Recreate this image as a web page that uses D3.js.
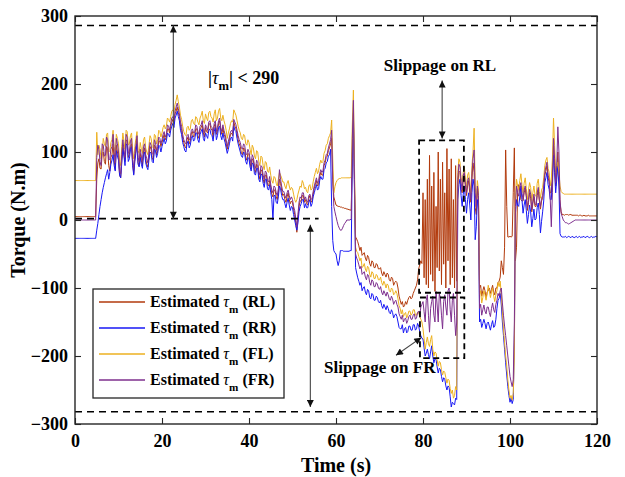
<!DOCTYPE html>
<html lang="en">
<head>
<meta charset="UTF-8" />
<title>Estimated motor torque</title>
<script src="https://d3js.org/d3.v7.min.js"></script>
<style>
  body { margin: 0; background: #fff; }
  svg text { font-family: 'Liberation Serif', 'Times New Roman', serif; font-weight: bold; fill: #000; }
</style>
</head>
<body>
<svg id="chart" width="625" height="477" font-family="Liberation Serif, serif"></svg>
<script>
  // sample times (s), one every 0.25 s
  const time = d3.range(0, 120.125, 0.25);

  // estimated motor torque (N.m); 20 samples (5 s) per row
  const torqueRL = [
    5, 5, 5, 5, 5, 5, 5, 5, 5, 5, 5, 5, 5, 5, 5, 5, 5, 5, 5, 5,
    60, 84, 90, 76, 75, 98, 100, 86, 82, 108, 105, 80, 72, 92, 96, 112, 88, 74, 110, 100,
    92, 66, 62, 88, 110, 96, 86, 118, 116, 92, 96, 108, 112, 84, 68, 90, 104, 116, 84, 80,
    98, 88, 80, 100, 106, 90, 82, 78, 94, 108, 104, 92, 88, 110, 108, 96, 102, 116, 116, 108,
    114, 120, 126, 118, 122, 134, 134, 128, 138, 144, 148, 142, 156, 160, 166, 158, 152, 138, 132, 120,
    114, 108, 106, 118, 122, 112, 116, 128, 130, 122, 124, 134, 134, 124, 120, 132, 136, 140, 128, 122,
    136, 130, 128, 140, 142, 134, 132, 122, 138, 142, 126, 130, 142, 146, 132, 126, 136, 126, 122, 112,
    104, 112, 118, 126, 128, 124, 144, 138, 134, 128, 118, 112, 108, 98, 96, 106, 104, 92, 88, 98,
    96, 84, 76, 90, 88, 74, 70, 82, 80, 66, 60, 74, 72, 60, 54, 66, 66, 52, 50, 58,
    48, 38, 34, 44, 44, 34, 30, 40, 60, 54, 44, 36, 38, 30, 26, 34, 40, 30, 24, 28,
    26, 16, 8, -4, -18, 2, 20, 28, 28, 36, 36, 26, 30, 24, 22, 32, 36, 26, 28, 38,
    46, 52, 58, 50, 52, 64, 70, 66, 66, 80, 84, 92, 94, 102, 106, 112, 120, 60, 34, 28,
    22, 21, 20, 20, 19, 19, 18, 18, 17, 17, 16, 16, 15, 15, 14, 100, 157, 50, -25, -28,
    -32, -38, -45, -40, -52, -50, -48, -56, -60, -52, -55, -64, -68, -60, -62, -70, -70, -64, -66, -72,
    -72, -70, -78, -82, -76, -80, -84, -78, -80, -88, -90, -84, -86, -96, -92, -90, -92, -100, -112, -118,
    -124, -120, -128, -126, -120, -124, -118, -114, -112, -116, -114, -108, -104, -100, -96, -88, -72, -66, -60, -64,
    40, -85, 30, -95, 60, -100, 95, -80, 50, -90, 70, -105, 20, -70, 100, -75, 60, -95, 85, -65,
    40, -100, 105, -60, 75, -95, 90, -85, 30, -100, 80, -90, 50, 72, 70, 45, 40, 58, 64, 50,
    36, 50, 58, 40, 26, 60, 84, 70, 18, 8, 46, 30, -100, -96, -112, -104, -98, -104, -115, -106,
    -104, -100, -108, -102, -96, -106, -110, -100, -100, -92, -90, -84, -60, -70, -80, -40, 103, 20, -25, -25,
    -24, -25, -24, 40, 106, -60, -40, 40, 52, 44, 30, 28, 28, 40, 46, 34, 14, 26, 40, 32,
    12, 24, 34, 20, 20, 36, 44, 28, 16, 28, 32, 46, 66, 72, 80, 62, 56, 40, 40, 70,
    110, 80, 50, 70, 100, 60, 25, 12, 8, 8, 7, 8, 8, 8, 7, 8, 8, 7, 7, 7,
    7, 7, 7, 6, 7, 7, 6, 6, 7, 6, 6, 6, 7, 6, 6, 6, 6, 6, 6, 6,
    6
  ];
  const torqueRR = [
    -27, -27, -27, -27, -27, -27, -27, -27, -27, -27, -27, -27, -27, -27, -27, -27, -27, -27, -27, -27,
    -15, -5, 8, 20, 30, 40, 48, 55, 62, 68, 74, 60, 70, 82, 88, 96, 80, 72, 102, 94,
    88, 66, 62, 84, 106, 94, 80, 112, 110, 86, 90, 104, 108, 80, 66, 86, 98, 112, 82, 78,
    92, 82, 76, 96, 100, 84, 78, 74, 88, 100, 98, 86, 84, 104, 102, 92, 98, 110, 108, 100,
    108, 114, 120, 112, 116, 128, 126, 122, 132, 138, 142, 136, 150, 154, 160, 152, 146, 132, 126, 114,
    108, 102, 100, 112, 116, 106, 110, 120, 124, 116, 118, 128, 128, 118, 114, 126, 130, 134, 120, 116,
    128, 124, 120, 132, 134, 126, 124, 116, 130, 136, 118, 124, 136, 138, 124, 118, 128, 120, 114, 106,
    98, 104, 112, 120, 122, 116, 138, 132, 130, 120, 112, 106, 100, 94, 92, 100, 98, 86, 82, 92,
    90, 78, 72, 84, 82, 68, 66, 76, 76, 60, 56, 68, 66, 54, 48, 60, 60, 46, 44, 52,
    40, 30, 0, 36, 36, 26, 24, 34, 50, 46, 36, 30, 30, 24, 18, 26, 32, 22, 14, 20,
    18, 8, 0, -8, -15, -4, 12, 20, 24, 30, 30, 18, 24, 18, 18, 26, 30, 20, 24, 34,
    40, 46, 52, 44, 46, 58, 64, 60, 60, 74, 76, 84, 86, 94, 96, 104, 20, -30, -45, -48,
    -50, -60, -67, -60, -45, -45, -45, -46, -46, -46, -46, -46, -46, -45, -45, 90, 147, 40, -70, -78,
    -85, -90, -96, -92, -104, -100, -98, -106, -110, -102, -104, -114, -116, -108, -110, -118, -118, -112, -114, -120,
    -122, -118, -126, -130, -124, -128, -132, -126, -130, -136, -138, -132, -136, -144, -140, -138, -142, -150, -158, -160,
    -160, -154, -166, -160, -158, -166, -164, -156, -156, -162, -162, -154, -154, -162, -160, -152, -156, -164, -170, -174,
    -175, -188, -200, -196, -190, -198, -204, -194, -185, -200, -210, -204, -205, -216, -225, -218, -220, -230, -238, -232,
    -234, -244, -250, -244, -246, -260, -275, -268, -270, -272, -262, -264, 30, 52, 60, 36, 20, 38, 50, 30,
    10, 30, 40, 22, 0, 40, 60, 50, -29, -10, 30, 16, -150, -146, -158, -152, -146, -152, -160, -152,
    -150, -156, -162, -154, -148, -158, -156, -146, -130, -118, -115, -108, -125, -150, -170, -190, -210, -228, -245, -258,
    -268, -262, -270, -264, -180, 10, 30, 22, 20, 34, 50, 30, 10, 22, 30, 14, -5, 8, 22, 12,
    -10, 2, 16, 0, 2, 18, 25, 8, -19, -2, 12, 28, 55, 62, 70, 52, 45, 30, 30, 60,
    95, 70, 40, 60, 80, 50, -20, -24, -25, -25, -25, -24, -26, -25, -24, -25, -26, -24, -25, -26,
    -25, -24, -26, -25, -24, -26, -25, -25, -24, -26, -25, -24, -25, -26, -25, -24, -26, -25, -25, -24,
    -25
  ];
  const torqueFL = [
    58, 58, 58, 58, 58, 58, 58, 58, 58, 58, 58, 58, 58, 58, 58, 58, 58, 58, 58, 58,
    129, 96, 110, 104, 90, 100, 120, 112, 108, 126, 128, 100, 102, 114, 118, 132, 108, 96, 126, 120,
    112, 86, 80, 108, 128, 116, 104, 132, 130, 110, 112, 124, 128, 102, 90, 108, 120, 130, 102, 98,
    114, 104, 98, 118, 122, 106, 100, 96, 110, 124, 120, 108, 106, 126, 124, 112, 118, 132, 130, 122,
    128, 136, 140, 134, 138, 150, 148, 144, 152, 160, 162, 158, 170, 176, 184, 174, 166, 154, 148, 138,
    130, 126, 124, 136, 138, 132, 134, 146, 148, 142, 140, 152, 150, 144, 140, 150, 154, 160, 146, 142,
    156, 150, 146, 158, 160, 152, 150, 144, 156, 162, 146, 150, 160, 164, 150, 146, 154, 146, 140, 132,
    120, 128, 134, 142, 146, 144, 162, 158, 154, 146, 138, 132, 128, 120, 118, 126, 124, 112, 110, 118,
    114, 104, 96, 110, 106, 94, 90, 102, 100, 86, 80, 94, 92, 80, 74, 86, 84, 72, 70, 78,
    66, 58, 54, 64, 62, 54, 50, 60, 70, 66, 62, 56, 56, 50, 46, 54, 58, 50, 44, 48,
    46, 38, 30, 26, 30, 38, 44, 50, 48, 58, 54, 46, 48, 42, 40, 50, 52, 44, 46, 56,
    64, 70, 76, 68, 72, 82, 88, 84, 86, 98, 102, 110, 112, 120, 124, 128, 147, 90, 40, 49,
    55, 58, 60, 61, 61, 62, 62, 62, 62, 62, 62, 62, 62, 62, 63, 140, 191, 80, -40, -46,
    -48, -54, -60, -56, -70, -68, -64, -72, -76, -68, -70, -80, -84, -76, -78, -86, -86, -80, -82, -88,
    -88, -84, -92, -96, -90, -94, -100, -94, -96, -104, -106, -100, -102, -110, -108, -104, -108, -116, -126, -130,
    -138, -132, -142, -138, -136, -144, -140, -134, -134, -140, -138, -132, -132, -140, -140, -136, -136, -142, -146, -150,
    -160, -175, -190, -180, -172, -182, -186, -176, -170, -190, -200, -194, -196, -206, -215, -208, -210, -220, -228, -222,
    -224, -232, -240, -234, -236, -248, -255, -250, -262, -258, -245, -250, 70, 90, 85, 62, 55, 70, 78, 60,
    48, 66, 70, 56, 40, 80, 100, 135, 50, 30, 58, 44, -110, -104, -122, -114, -104, -110, -118, -108,
    -96, -104, -114, -106, -100, -112, -120, -110, -104, -92, -98, -90, -110, -135, -160, -180, -200, -215, -235, -250,
    -262, -258, -265, -255, -200, 30, 60, 50, 45, 58, 68, 52, 40, 54, 62, 46, 30, 44, 55, 48,
    28, 40, 50, 36, 35, 54, 60, 42, 32, 44, 48, 62, 80, 88, 92, 76, 70, 50, 60, 90,
    150, 110, 70, 78, 85, 70, 50, 42, 40, 39, 38, 38, 38, 38, 38, 38, 38, 38, 38, 38,
    38, 38, 38, 38, 38, 38, 38, 38, 38, 38, 38, 38, 38, 38, 38, 38, 38, 38, 38, 38,
    38
  ];
  const torqueFR = [
    0, 0, 0, 0, 0, 0, 0, 0, 0, 0, 0, 0, 0, 0, 0, 0, 0, 0, 0, 0,
    92, 110, 104, 86, 80, 112, 110, 94, 95, 122, 118, 88, 90, 104, 108, 126, 100, 84, 120, 112,
    100, 72, 68, 96, 118, 104, 92, 126, 122, 98, 100, 116, 120, 90, 76, 98, 110, 124, 92, 86,
    104, 94, 86, 108, 112, 96, 90, 84, 100, 114, 110, 98, 96, 118, 114, 102, 108, 122, 120, 112,
    118, 126, 130, 122, 126, 140, 138, 132, 142, 150, 152, 146, 160, 166, 172, 164, 156, 144, 138, 126,
    118, 114, 112, 124, 126, 118, 120, 132, 134, 128, 128, 140, 138, 130, 126, 138, 140, 146, 132, 128,
    140, 136, 132, 144, 146, 138, 136, 128, 142, 146, 130, 136, 146, 150, 136, 130, 140, 132, 126, 118,
    108, 116, 122, 130, 132, 128, 148, 144, 140, 132, 124, 118, 114, 106, 104, 112, 110, 98, 96, 104,
    100, 90, 82, 96, 92, 80, 76, 88, 86, 72, 66, 80, 78, 66, 60, 72, 70, 58, 56, 64,
    52, 44, 40, 50, 48, 40, 36, 46, 74, 60, 50, 42, 42, 36, 32, 40, 44, 36, 30, 34,
    30, 20, 14, 2, -10, 8, 26, 34, 32, 40, 40, 30, 34, 28, 26, 36, 38, 30, 32, 42,
    50, 56, 62, 54, 58, 68, 74, 70, 72, 84, 88, 96, 98, 106, 112, 118, 132, 60, 20, 12,
    5, -2, -8, -12, -15, -15, -12, -8, -5, -3, 0, 0, 0, 0, 2, 120, 176, 60, -50, -56,
    -60, -66, -72, -68, -80, -78, -76, -84, -88, -80, -82, -92, -96, -88, -90, -98, -98, -92, -94, -100,
    -102, -98, -106, -110, -104, -108, -112, -106, -110, -116, -118, -112, -116, -124, -120, -118, -124, -128, -138, -142,
    -146, -140, -150, -146, -144, -152, -148, -142, -140, -146, -146, -140, -138, -146, -144, -136, -134, -140, -128, -124,
    -120, -135, -150, -118, -110, -140, -165, -130, -120, -112, -140, -150, -105, -125, -150, -108, -115, -140, -160, -120,
    -110, -128, -140, -104, -100, -132, -150, -118, -108, -140, -170, -150, 60, 82, 78, 56, 44, 66, 70, 52,
    40, 58, 62, 48, 30, 68, 90, 103, 40, 20, 50, 36, -130, -124, -140, -132, -125, -134, -138, -128,
    -128, -136, -142, -130, -122, -132, -136, -124, -118, -108, -112, -104, -100, -122, -140, -156, -170, -185, -200, -215,
    -230, -238, -245, -235, -150, 20, 50, 40, 35, 48, 55, 40, 30, 44, 50, 36, 18, 30, 45, 38,
    15, 28, 38, 24, 22, 40, 48, 30, 20, 32, 36, 50, 70, 78, 85, 66, 60, 30, -10, 40,
    120, 90, 55, 80, 137, 100, 30, 10, 5, 0, -2, -4, -4, -5, -6, -5, -4, -3, -2, -1,
    0, 0, 0, 0, 0, 0, 0, 0, 0, 0, 0, 0, 0, 0, 0, 0, 0, 0, 0, 0,
    0
  ];

  const seriesNames = ["RL", "RR", "FL", "FR"];
  const seriesColors = ["#B23A0C", "#1717F5", "#EDB120", "#7E2F8E"];
  const seriesValues = [torqueRL, torqueRR, torqueFL, torqueFR];

  const xTicks = [0, 20, 40, 60, 80, 100, 120];
  const yTicks = [-300, -200, -100, 0, 100, 200, 300];

  const svg = d3.select("#chart");
  const plotLeft = 75, plotRight = 597, plotTop = 16, plotBottom = 424;

  const x = d3.scaleLinear().domain([0, 120]).range([plotLeft, plotRight]);
  const y = d3.scaleLinear().domain([-300, 300]).range([plotBottom, plotTop]);

  const defs = svg.append("defs");
  defs.append("clipPath").attr("id", "plot-clip")
    .append("rect")
    .attr("x", plotLeft).attr("y", plotTop)
    .attr("width", plotRight - plotLeft).attr("height", plotBottom - plotTop);

  defs.append("marker")
    .attr("id", "head")
    .attr("viewBox", "0 0 10 10")
    .attr("refX", 10).attr("refY", 5)
    .attr("markerWidth", 9).attr("markerHeight", 7)
    .attr("markerUnits", "userSpaceOnUse")
    .attr("orient", "auto-start-reverse")
    .append("path")
    .attr("d", "M0,0L10,5L0,10Z")
    .attr("fill", "#111");

  // torque traces
  const line = d3.line()
    .x((d, i) => x(time[i]))
    .y(d => y(d));

  svg.append("g")
    .attr("clip-path", "url(#plot-clip)")
    .selectAll("path")
    .data(seriesValues)
    .join("path")
    .attr("d", line)
    .attr("fill", "none")
    .attr("stroke", (d, i) => seriesColors[i])
    .attr("stroke-width", 1)
    .attr("stroke-linejoin", "round");

  // limit lines
  const dashed = (x0, x1, v) => svg.append("line")
    .attr("x1", x(x0)).attr("x2", x(x1))
    .attr("y1", y(v)).attr("y2", y(v))
    .attr("stroke", "#000").attr("stroke-width", 1.6)
    .attr("stroke-dasharray", "7,5");
  dashed(0, 120, 286);
  dashed(0, 56, 2);
  dashed(0, 120, -282);

  // double-headed arrows
  const arrow = (x1, y1, x2, y2) => svg.append("line")
    .attr("x1", x1).attr("y1", y1).attr("x2", x2).attr("y2", y2)
    .attr("stroke", "#444").attr("stroke-width", 1.1)
    .attr("marker-start", "url(#head)")
    .attr("marker-end", "url(#head)");
  arrow(x(22.6), y(286), x(22.6), y(2));
  arrow(x(54.1), y(-7), x(54.1), y(-275));
  arrow(x(84.4), y(205), x(84.4), y(120));
  arrow(x(73.8), y(-199), x(79.6), y(-173));

  // slippage boxes
  const box = (t0, t1, v0, v1) => svg.append("rect")
    .attr("x", x(t0)).attr("y", y(v0))
    .attr("width", x(t1) - x(t0)).attr("height", y(v1) - y(v0))
    .attr("fill", "none").attr("stroke", "#000")
    .attr("stroke-width", 1.8).attr("stroke-dasharray", "6,4");
  box(79.1, 89.4, 117, -107);
  box(79.3, 89.5, -114, -203);

  // axes (ticks pointing inward, MATLAB box style)
  const axisColor = "#262626";
  const styleAxis = g => {
    g.select(".domain").remove();
    g.selectAll("line").attr("stroke", axisColor).attr("stroke-width", 1.1);
    g.attr("font-family", null).attr("font-size", null);
    g.selectAll("text").attr("font-size", 18).attr("fill", "#000");
  };
  svg.append("g").attr("transform", `translate(0,${plotBottom})`)
    .call(d3.axisBottom(x).tickValues(xTicks).tickSize(-6).tickPadding(10))
    .call(styleAxis);
  svg.append("g").attr("transform", `translate(0,${plotTop})`)
    .call(d3.axisTop(x).tickValues(xTicks).tickSize(-6).tickFormat(""))
    .call(styleAxis);
  svg.append("g").attr("transform", `translate(${plotLeft},0)`)
    .call(d3.axisLeft(y).tickValues(yTicks).tickSize(-6).tickPadding(7))
    .call(styleAxis);
  svg.append("g").attr("transform", `translate(${plotRight},0)`)
    .call(d3.axisRight(y).tickValues(yTicks).tickSize(-6).tickFormat(""))
    .call(styleAxis);

  svg.append("rect")
    .attr("x", plotLeft).attr("y", plotTop)
    .attr("width", plotRight - plotLeft).attr("height", plotBottom - plotTop)
    .attr("fill", "none").attr("stroke", axisColor).attr("stroke-width", 1.4);

  svg.append("text")
    .attr("x", (plotLeft + plotRight) / 2).attr("y", 472)
    .attr("text-anchor", "middle").attr("font-size", 20)
    .text("Time (s)");
  svg.append("text")
    .attr("transform", `translate(25,${(plotTop + plotBottom) / 2}) rotate(-90)`)
    .attr("text-anchor", "middle").attr("font-size", 20)
    .text("Torque (N.m)");

  // text with tau_m
  const tauText = (g, before, after) => {
    g.append("tspan").text(before);
    g.append("tspan").attr("font-style", "italic").attr("font-weight", "normal").text("\u03C4");
    g.append("tspan").attr("dy", 6).attr("font-size", "0.7em").text("m");
    g.append("tspan").attr("dy", -6).text(after);
  };

  const bound = svg.append("text").attr("x", 208).attr("y", 84).attr("font-size", 18);
  tauText(bound, "|", "| < 290");

  svg.append("text")
    .attr("x", 440).attr("y", 71)
    .attr("text-anchor", "middle").attr("font-size", 17)
    .text("Slippage on RL");
  svg.append("text")
    .attr("x", 324).attr("y", 373)
    .attr("font-size", 17)
    .text("Slippage on FR");

  // legend
  const legend = svg.append("g");
  legend.append("rect")
    .attr("x", 93).attr("y", 289).attr("width", 191).attr("height", 109)
    .attr("fill", "#fff").attr("stroke", axisColor).attr("stroke-width", 1.3);
  seriesNames.forEach((name, i) => {
    const ly = 302 + i * 26;
    legend.append("line")
      .attr("x1", 99).attr("x2", 145).attr("y1", ly).attr("y2", ly)
      .attr("stroke", seriesColors[i]).attr("stroke-width", 1.3);
    const t = legend.append("text").attr("x", 150).attr("y", ly + 5).attr("font-size", 16);
    tauText(t, "Estimated ", ` (${name})`);
  });
</script>
</body>
</html>
